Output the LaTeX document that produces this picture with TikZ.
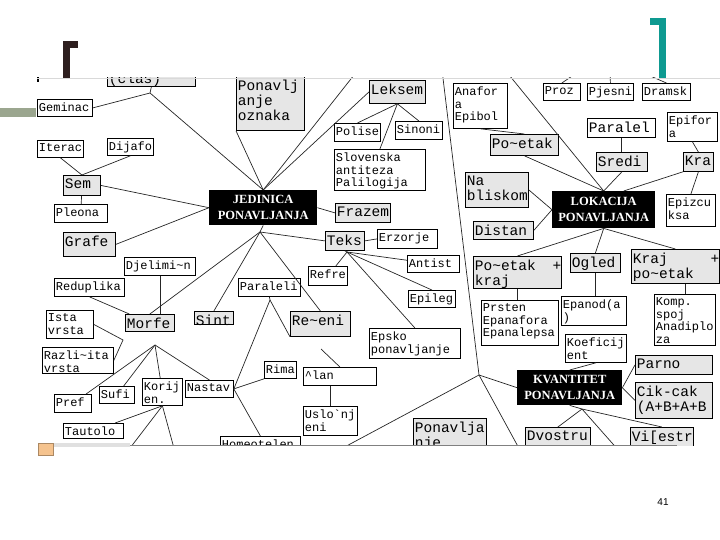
\documentclass[tikz,border=0pt]{standalone}
\usepackage{fontspec}
\setmainfont{Liberation Serif}
\newfontfamily\monofont{Liberation Mono}
\newfontfamily\pagefont{Liberation Sans}
\usetikzlibrary{calc}
\definecolor{boxgrey}{RGB}{230,230,230}
\definecolor{darkbracket}{RGB}{46,31,31}
\definecolor{tealbracket}{RGB}{14,154,145}
\definecolor{sagebar}{RGB}{155,166,143}
\definecolor{orangesq}{RGB}{245,195,142}
\newcommand{\smallmono}{\monofont\fontsize{12}{12.5}\selectfont}
\newcommand{\bigmono}{\monofont\fontsize{14.5}{15}\selectfont}
\newcommand{\corefont}{\fontsize{12.5}{16}\selectfont\bfseries}
\newcommand{\tld}{\textasciitilde}
% box text: width, height, lines
\newcommand{\bx}[3]{\parbox[c][#2pt][t]{#1pt}{\vspace*{3.5pt}\raggedright\leftskip=1.5pt\hyphenpenalty=10000 #3}}
\newcommand{\cbx}[3]{\parbox[c][#2pt][c]{#1pt}{\centering #3}}

\begin{document}
\begin{tikzpicture}[
    x=1pt, y=-1pt,
    leaf/.style={draw, fill=white, inner sep=0pt, anchor=north west, line width=0.8pt, font=\smallmono},
    topic/.style={leaf, fill=boxgrey, font=\bigmono},
    core/.style={fill=black, text=white, inner sep=0pt, anchor=north west, font=\corefont},
    link/.style={draw=black!85, line width=0.7pt}
]
\useasboundingbox (0,0) rectangle (720,540);

% slide frame
\fill[darkbracket] (63,41) rectangle (70,78);
\fill[darkbracket] (63,41) rectangle (78,48);
\fill[tealbracket] (659,18) rectangle (666,78);
\fill[tealbracket] (650,18) rectangle (666,25);
\fill[sagebar] (0,108) rectangle (36,117);

\begin{scope}
\clip (36,78) rectangle (720,445);

% left branch
\node[leaf] (tlcut) at (37,60) {\bx{48}{21}{}};
\node[topic] (clas) at (107,69) {\bx{88}{17}{(clas)}};
\node[leaf] (geminac) at (37,99) {\bx{55}{17}{Geminac}};
\node[leaf] (iterac) at (37,140) {\bx{46}{17}{Iterac}};
\node[leaf] (dijafo) at (107,138) {\bx{46}{17}{Dijafo}};
\node[topic] (sem) at (63,175) {\bx{37}{20}{Sem}};
\node[leaf] (pleona) at (54,204) {\bx{53}{18}{Pleona}};
\node[topic] (grafe) at (63,232) {\bx{52}{24}{Grafe}};
\node[leaf] (djelimin) at (124,257) {\bx{71}{18}{Djelimi\tld n}};
\node[leaf] (redup) at (54,278) {\bx{70}{18}{Reduplika}};
\node[leaf] (ista) at (46,310) {\bx{47}{28}{Ista\\vrsta}};
\node[topic] (morfe) at (125,314) {\bx{49}{17}{Morfe}};
\node[topic] (sint) at (194,311) {\bx{39}{13}{Sint}};
\node[leaf] (razlicita) at (42,347) {\bx{71}{26}{Razli\tld ita\\vrsta}};
\node[leaf] (pref) at (54,394) {\bx{37}{18}{Pref}};
\node[leaf] (sufi) at (99,386) {\bx{35}{17}{Sufi}};
\node[leaf] (korij) at (142,378) {\bx{40}{27}{Korij\\en.}};
\node[leaf] (nastav) at (185,380) {\bx{48}{17}{Nastav}};
\node[leaf] (tautolo) at (63,423) {\bx{60}{15}{Tautolo}};

% middle branch
\node[topic] (oznaka) at (236,76) {\bx{68}{54}{Ponavlj\\anje\\oznaka}};
\node[topic] (leksem) at (369,80) {\bx{56}{23}{Leksem}};
\node[leaf] (polise) at (334,123) {\bx{46}{18}{Polise}};
\node[leaf] (sinoni) at (395,121) {\bx{47}{18}{Sinoni}};
\node[leaf] (slovenska) at (334,149) {\bx{91}{41}{Slovenska\\antiteza\\Palilogija}};
\node[core] (jedinica) at (209,190) {\cbx{108}{35}{JEDINICA\\PONAVLJANJA}};
\node[topic] (frazem) at (335,203) {\bx{55}{19}{Frazem}};
\node[topic] (teks) at (325,231) {\bx{39}{19}{Teks}};
\node[leaf] (erzorje) at (377,229) {\bx{60}{19}{Erzorje}};
\node[leaf] (refre) at (308,266) {\bx{39}{19}{Refre}};
\node[leaf] (antist) at (407,255) {\bx{52}{17}{Antist}};
\node[leaf] (epileg) at (408,290) {\bx{47}{17}{Epileg}};
\node[leaf] (paraleli) at (238,278) {\bx{62}{18}{Paraleli}};
\node[topic] (recenica) at (290,311) {\bx{60}{25}{Re\tld eni}};
\node[leaf] (epsko) at (369,328) {\bx{91}{30}{Epsko\\ponavljanje}};
\node[leaf] (clan) at (303,367) {\bx{73}{18}{\textasciicircum lan}};
\node[leaf] (uslo) at (303,406) {\bx{54}{29}{Uslo\symbol{96}nj\\eni}};
\node[leaf] (rima) at (264,361) {\bx{32}{17}{Rima}};
\node[leaf] (homeo) at (220,436) {\bx{80}{20}{Homeotelen}};
\node[topic] (ponbottom) at (413,418) {\bx{73}{32}{Ponavlja\\nje}};

% right branch
\node[leaf] (anafora) at (453,83) {\bx{54}{45}{Anafor\\a\\Epibol}};
\node[leaf] (proz) at (543,83) {\bx{37}{17}{Proz}};
\node[leaf] (pjesni) at (587,83) {\bx{46}{17}{Pjesni}};
\node[leaf] (dramsk) at (642,83) {\bx{48}{17}{Dramsk}};
\node[leaf, font=\bigmono] (paralel) at (587,118) {\bx{68}{19}{Paralel}};
\node[leaf] (epifora) at (667,112) {\bx{50}{29}{Epifor\\a}};
\node[topic] (sredi) at (596,152) {\bx{51}{19}{Sredi}};
\node[topic] (kra) at (683,152) {\bx{30}{19}{Kra}};
\node[topic] (pocetak) at (490,134) {\bx{68}{21}{Po\tld etak}};
\node[topic] (blizu) at (465,172) {\bx{63}{35}{Na\\bliskom}};
\node[core] (lokacija) at (552,191) {\cbx{103}{37}{LOKACIJA\\PONAVLJANJA}};
\node[topic] (distan) at (473,221) {\bx{60}{18}{Distan}};
\node[leaf] (epizeuksa) at (666,194) {\bx{49}{32}{Epizcu\\ksa}};
\node[topic] (pockraj) at (473,256) {\bx{88}{32}{Po\tld etak\hfill+\\kraj}};
\node[topic] (ogled) at (570,253) {\bx{50}{19}{Ogled}};
\node[topic] (krajpoc) at (631,249) {\bx{88}{34}{Kraj\hfill+\\po\tld etak}};
\node[leaf] (prsten) at (481,300) {\bx{77}{45}{Prsten\\Epanafora\\Epanalepsa}};
\node[leaf] (epanod) at (561,296) {\bx{65}{29}{Epanod(a\\)}};
\node[leaf] (komp) at (654,294) {\bx{61}{51}{Komp.\\spoj\\Anadiplo\\za}};
\node[leaf] (koef) at (565,334) {\bx{61}{28}{Koeficij\\ent}};
\node[core] (kvantitet) at (517,370) {\cbx{105}{35}{KVANTITET\\PONAVLJANJA}};
\node[topic] (parno) at (635,355) {\bx{77}{19}{Parno}};
\node[topic] (cikcak) at (635,382) {\bx{77}{36}{Cik-cak\\(A+B+A+B}};
\node[topic] (dvostru) at (525,427) {\bx{65}{25}{Dvostru}};
\node[topic] (visestr) at (630,427) {\bx{63}{25}{Vi[estr}};

% junctions and loose ends
\coordinate (cj) at (150,93);
\coordinate (jb) at (260,232);
\coordinate (jt) at (347,252);
\coordinate (jp) at (270,300);
\coordinate (jc) at (321,349);
\coordinate (jm) at (155,345);
\coordinate (ji) at (123,340);
\coordinate (jkv) at (479,375);
\coordinate (jq) at (582,409);
\coordinate (t1) at (358,70);
\coordinate (t2) at (442,70);
\coordinate (t3) at (505,70);
\coordinate (tproz) at (578,72);
\coordinate (tpjesni) at (610,70);
\coordinate (tdramsk) at (648,75);
\coordinate (b1) at (127,452);
\coordinate (b2) at (175,452);
\coordinate (b3) at (339,450);
\coordinate (b4) at (521,452);
\coordinate (b5) at (620,452);

% connections, left
\draw[link] (clas.south) -- (cj) -- (jedinica.north);
\draw[link] (geminac.east) -- (cj);
\draw[link] (iterac.south) -- (sem.north) -- (dijafo.south);
\draw[link] (sem) -- (pleona);
\draw[link] (sem.east) -- (jedinica.west);
\draw[link] (grafe.east) -- (jedinica.west);
\draw[link] (djelimin.south) -- (djelimin.south |- morfe.north);
\draw[link] (redup.south) -- (morfe);
\draw[link] (ista.east) -- (ji) -- (razlicita.east);
\draw[link] (jm) -- (pref);
\draw[link] (jm) -- (sufi);
\draw[link] (jm) -- (korij);
\draw[link] (jm) -- (nastav.north);
\draw[link] (korij.south) -- (tautolo);
\draw[link] (korij.south) -- (b1);
\draw[link] (korij.south) -- (b2);

% connections, middle
\draw[link] (oznaka.south west) -- (jedinica.north);
\draw[link] (t1) -- (jedinica.north);
\draw[link] (leksem.west) -- (jedinica.north);
\draw[link] (leksem.south) -- (polise.north);
\draw[link] (leksem.south) -- (sinoni.north);
\draw[link] (leksem.south) -- (slovenska.north);
\draw[link] (jedinica.east) -- (frazem.west);
\draw[link] (jedinica.south) -- (jb);
\draw[link] (jb) -- (teks.west);
\draw[link] (jb) -- (morfe.north);
\draw[link] (jb) -- (sint.north);
\draw[link] (jb) -- (recenica.north);
\draw[link] (teks.east) -- (erzorje.west);
\draw[link] (teks.south) -- (jt);
\draw[link] (jt) -- (refre);
\draw[link] (jt) -- (antist);
\draw[link] (jt) -- (epileg.north);
\draw[link] (jt) -- (epsko.north);
\draw[link] (paraleli.south) -- (jp);
\draw[link] (jp) -- (nastav.east);
\draw[link] (jp) -- (recenica.south west);
\draw[link] (nastav.east) -- (rima.south west);
\draw[link] (nastav.east) -- (homeo.north);
\draw[link] (jc) -- (clan.north);
\draw[link] (clan.south -| uslo.north) -- (uslo.north);

% connections, right
\draw[link] (t2) -- (jkv);
\draw[link] (jkv) -- (kvantitet.west);
\draw[link] (jkv) -- (b3);
\draw[link] (jkv) -- (b4);
\draw[link] (t3) -- (lokacija.north);
\draw[link] (anafora.south) -- (pocetak.north);
\draw[link] (pocetak.south) -- (lokacija.north);
\draw[link] (sredi.south) -- (lokacija.north);
\draw[link] (kra.south west) -- ($(lokacija.north)+(20,0)$);
\draw[link] (kra.south) -- (epizeuksa.north);
\draw[link] (epifora.south) -- (kra.north);
\draw[link] (paralel.south) -- (paralel.south |- sredi.north);
\draw[link] (proz.north) -- (tproz);
\draw[link] (pjesni.north) -- (tpjesni);
\draw[link] (dramsk.north) -- (tdramsk);
\draw[link] (blizu.east) -- (lokacija.west);
\draw[link] (distan.east) -- (lokacija.west);
\draw[link] (lokacija.south) -- (pockraj.north);
\draw[link] (lokacija.south) -- (ogled.north);
\draw[link] (lokacija.south) -- (krajpoc.north);
\draw[link] (ogled.south) -- (ogled.south |- epanod.north);
\draw[link] (pockraj.south) -- (pockraj.south |- prsten.north);
\draw[link] (komp.north |- krajpoc.south) -- (komp.north);
\draw[link] (koef.south) -- (kvantitet.north);
\draw[link] (kvantitet.east) -- (parno.west);
\draw[link] (kvantitet.east) -- (cikcak.west);
\draw[link] (kvantitet.south) -- (jq);
\draw[link] (jq) -- (dvostru.north);
\draw[link] (jq) -- (visestr.north);
\draw[link] (jq) -- (b5);
\end{scope}

% frame lines and page number
\draw[black!15, line width=0.8pt] (37,78) -- (720,78);
\fill[black!12] (54,443) rectangle (130,447);
\draw[black!50, line width=0.8pt] (130,445) -- (677,445);
\filldraw[fill=orangesq, draw=orangesq!70!black] (38,443) rectangle (53,455);
\node[font=\pagefont\fontsize{10}{12}\selectfont] (pagenum) at (663,502) {41};
\end{tikzpicture}
\end{document}
